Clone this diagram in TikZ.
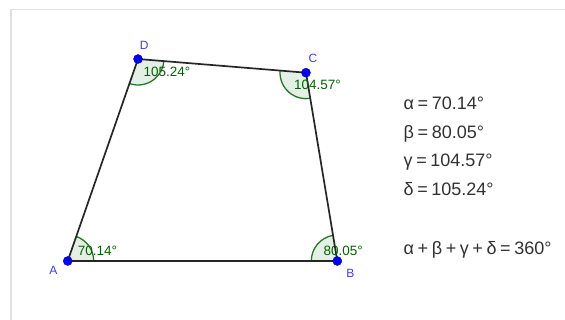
\documentclass[tikz,border=0pt]{standalone}
\usepackage{fontspec}
\setmainfont{Liberation Sans}
\usetikzlibrary{angles}
\definecolor{ggreen}{RGB}{0,100,0}
\definecolor{gblue}{RGB}{0,0,255}
\definecolor{glabel}{RGB}{60,60,255}
\definecolor{gframe}{RGB}{224,224,224}
\definecolor{gtext}{RGB}{50,50,50}
\newcommand{\gsp}{\hspace{3.6pt}}
\begin{document}
\begin{tikzpicture}[x=1pt,y=-1pt,
  edge/.style={line width=1.7pt, draw=black!85},
  sector/.style={draw=ggreen, line width=1.3pt, fill=ggreen, fill opacity=0.1, draw opacity=0.85, angle radius=26pt},
  pt/.style={circle, fill=gblue, draw=blue!70!black, line width=0.4pt, inner sep=0pt, minimum size=9pt},
  vlabel/.style={text=glabel, inner sep=0pt, font=\fontsize{12}{14}\selectfont},
  alabel/.style={text=ggreen, inner sep=0pt, anchor=base west, font=\fontsize{13.5}{15}\selectfont},
  eq/.style={text=gtext, inner sep=0pt, anchor=base west, font=\fontsize{18}{20}\selectfont}]
\useasboundingbox (0,0) rectangle (565,320);
\fill[white] (0,0) rectangle (565,320);
% frame
\draw[gframe, line width=1pt] (10,9.5) -- (565,9.5);
\draw[gframe, line width=2pt] (10.7,9.5) -- (10.7,320);
% vertices
\coordinate (A) at (67.7,261);
\coordinate (B) at (337.3,261);
\coordinate (C) at (306,72.7);
\coordinate (D) at (138,59);
% angle sectors
\pic[sector] {angle=B--A--D};
\pic[sector] {angle=C--B--A};
\pic[sector] {angle=D--C--B};
\pic[sector] {angle=A--D--C};
% polygon
\draw[edge] (A) -- (B) -- (C) -- (D) -- cycle;
% points
\node[pt] (pA) at (A) {};
\node[pt] (pB) at (B) {};
\node[pt] (pC) at (C) {};
\node[pt] (pD) at (D) {};
% vertex labels
\node[vlabel] (lA) at (53.3,270.8) {A};
\node[vlabel] (lB) at (350.3,273.3) {B};
\node[vlabel] (lC) at (313,58) {C};
\node[vlabel] (lD) at (144.3,45) {D};
% angle labels
\node[alabel] (aA) at (77.7,256) {70.14°};
\node[alabel] (aB) at (323.3,256) {80.05°};
\node[alabel] (aC) at (294,90) {104.57°};
\node[alabel] (aD) at (143.3,76.7) {105.24°};
% equations
\node[eq] (e1) at (403.5,110) {α\gsp{}=\gsp{}70.14°};
\node[eq] (e2) at (403.5,138.5) {β\gsp{}=\gsp{}80.05°};
\node[eq] (e3) at (403.5,167) {γ\gsp{}=\gsp{}104.57°};
\node[eq] (e4) at (403.5,195.5) {δ\gsp{}=\gsp{}105.24°};
\node[eq] (e5) at (403.5,255) {α\gsp{}+\gsp{}β\gsp{}+\gsp{}γ\gsp{}+\gsp{}δ\gsp{}=\gsp{}360°};
\end{tikzpicture}
\end{document}
